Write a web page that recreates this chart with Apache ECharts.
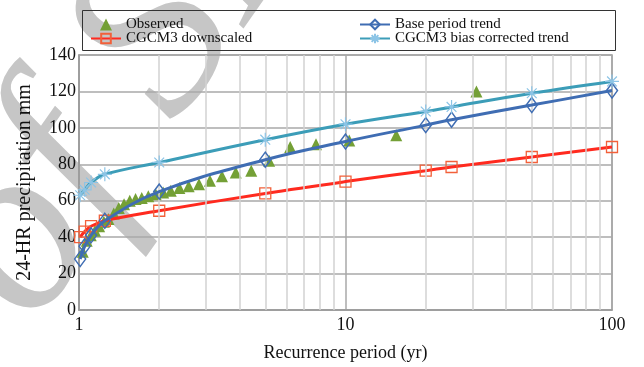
<!DOCTYPE html>
<html lang="en">
<head>
<meta charset="UTF-8">
<title>24-HR precipitation vs recurrence period</title>
<script src="https://cdn.jsdelivr.net/npm/echarts@6/dist/echarts.min.js"></script>
<style>
  html, body { margin: 0; padding: 0; background: #fff; }
  #chart { width: 644px; height: 367px; }
</style>
</head>
<body>
<div id="chart"></div>
<script>
// return periods (yr) where the fitted curves are marked
const trendPeriods = [1.01, 1.05, 1.11, 1.25, 2, 5, 10, 20, 25, 50, 100];
const baseTrend = [28, 35, 41, 49, 65, 82.5, 92.5, 101.5, 104.5, 112.5, 120.5];
const downscaled = [40, 43, 46, 49, 54.5, 64, 70.5, 76.5, 78.5, 84, 89.5];
const biasCorrected = [63, 66, 70, 74.5, 81, 93.5, 102, 109, 111.5, 119, 125.5];

// observed annual maxima at their plotting positions
const obsPeriods = [31, 15.5, 10.33, 7.75, 6.2, 5.17, 4.43, 3.875, 3.44, 3.1, 2.82, 2.58, 2.38, 2.21, 2.07,
  1.94, 1.82, 1.72, 1.63, 1.55, 1.476, 1.41, 1.35, 1.29, 1.24, 1.19, 1.148, 1.107, 1.069, 1.033];
const observed = [120, 96, 93, 91, 89.5, 82, 76.5, 75.5, 73.5, 71, 69, 68, 67, 65.5, 64.5,
  63.5, 62.5, 61.5, 61, 60, 58, 56, 53, 50, 48.5, 46, 43.5, 41, 38, 32];

// minor log grid lines
const minorTicks = [2, 3, 4, 5, 6, 7, 8, 9, 20, 30, 40, 50, 60, 70, 80, 90];

const serif = 'Liberation Serif';
const pair = (xs, ys) => xs.map((x, i) => [x, ys[i]]);
const asterisk = 'path://M0,5L10,5M5,0L5,10M1.5,1.5L8.5,8.5M8.5,1.5L1.5,8.5';
const legendText = { fontFamily: serif, fontSize: 15, color: '#111', lineHeight: 14 };

const chart = echarts.init(document.getElementById('chart'));
chart.setOption({
  animation: false,
  grid: { left: 79, right: 32, top: 55, bottom: 55, show: true, borderColor: '#9a9a9a', borderWidth: 1.5 },
  legend: [
    {
      orient: 'vertical', left: 85, top: 12, itemGap: -1, itemWidth: 30, itemHeight: 12,
      symbolKeepAspect: true,
      data: [{ name: 'Observed', icon: 'path://M0,10L5,0L10,10Z' }, 'CGCM3 downscaled'],
      textStyle: legendText
    },
    {
      orient: 'vertical', left: 354, top: 12, itemGap: -1, itemWidth: 30, itemHeight: 12,
      data: ['Base period trend', 'CGCM3 bias corrected trend'], textStyle: legendText
    }
  ],
  graphic: [
    {
      type: 'rect', left: 80, top: 8, z: 100,
      shape: { width: 533, height: 40 },
      style: { fill: 'none', stroke: '#333', lineWidth: 1 }
    },
    {
      // "of SID" watermark of the source page, kept under everything
      type: 'text', x: -18, y: 292, rotation: 0.96, z: -10, silent: true,
      style: {
        text: 'of SID', fill: '#c6c6c6',
        font: 'italic 240px "Liberation Serif"', textVerticalAlign: 'middle'
      }
    }
  ],
  xAxis: {
    type: 'log', logBase: 10, min: 1, max: 100,
    name: 'Recurrence period (yr)', nameLocation: 'middle', nameGap: 34,
    nameTextStyle: { fontFamily: serif, fontSize: 18, color: '#111' },
    axisLine: { lineStyle: { color: '#9a9a9a', width: 1.5 } },
    axisTick: { show: false },
    axisLabel: { fontFamily: serif, fontSize: 18, color: '#111', margin: 6 },
    splitLine: { show: true, lineStyle: { color: '#a8a8a8', width: 1.5 } }
  },
  yAxis: {
    type: 'value', min: 0, max: 140, interval: 20,
    name: '24-HR precipitation mm', nameLocation: 'middle', nameGap: 44,
    nameTextStyle: { fontFamily: serif, fontSize: 20, color: '#111' },
    axisLine: { show: true, lineStyle: { color: '#9a9a9a', width: 1.5 } },
    axisTick: { show: false },
    axisLabel: { fontFamily: serif, fontSize: 18, color: '#111', margin: 3 },
    splitLine: { lineStyle: { color: '#a8a8a8', width: 1.5 } }
  },
  series: [
    {
      type: 'scatter', name: 'minor grid', data: [], z: 0, silent: true,
      markLine: {
        silent: true, symbol: ['none', 'none'], label: { show: false },
        lineStyle: { color: '#d2d2d2', width: 1.5, type: 'solid' },
        data: minorTicks.map(v => ({ xAxis: v }))
      }
    },
    {
      type: 'scatter', name: 'Observed', data: pair(obsPeriods, observed), z: 3,
      symbol: 'triangle', symbolSize: 12,
      itemStyle: { color: '#74a036', opacity: 1 }
    },
    {
      type: 'line', name: 'CGCM3 downscaled', data: pair(trendPeriods, downscaled), z: 4,
      smooth: 0.4, symbol: 'rect', symbolSize: 11, showAllSymbol: true,
      lineStyle: { color: '#ff2a1f', width: 3 },
      itemStyle: { color: 'rgba(255,255,255,0)', borderColor: '#f2603a', borderWidth: 1.3 }
    },
    {
      type: 'line', name: 'Base period trend', data: pair(trendPeriods, baseTrend), z: 5,
      smooth: 0.4, symbol: 'diamond', symbolSize: [11, 15], showAllSymbol: true,
      lineStyle: { color: '#3f6db3', width: 3 },
      itemStyle: { color: 'rgba(255,255,255,0)', borderColor: '#3f6db3', borderWidth: 1.5 }
    },
    {
      type: 'line', name: 'CGCM3 bias corrected trend', data: pair(trendPeriods, biasCorrected), z: 6,
      smooth: 0.4, symbol: asterisk, symbolSize: 14, showAllSymbol: true,
      lineStyle: { color: '#3c9db8', width: 3 },
      itemStyle: { color: 'rgba(255,255,255,0)', borderColor: '#8cc4e6', borderWidth: 1.2 }
    }
  ]
});
window.addEventListener('resize', function() { chart.resize(); });
</script>
</body>
</html>
